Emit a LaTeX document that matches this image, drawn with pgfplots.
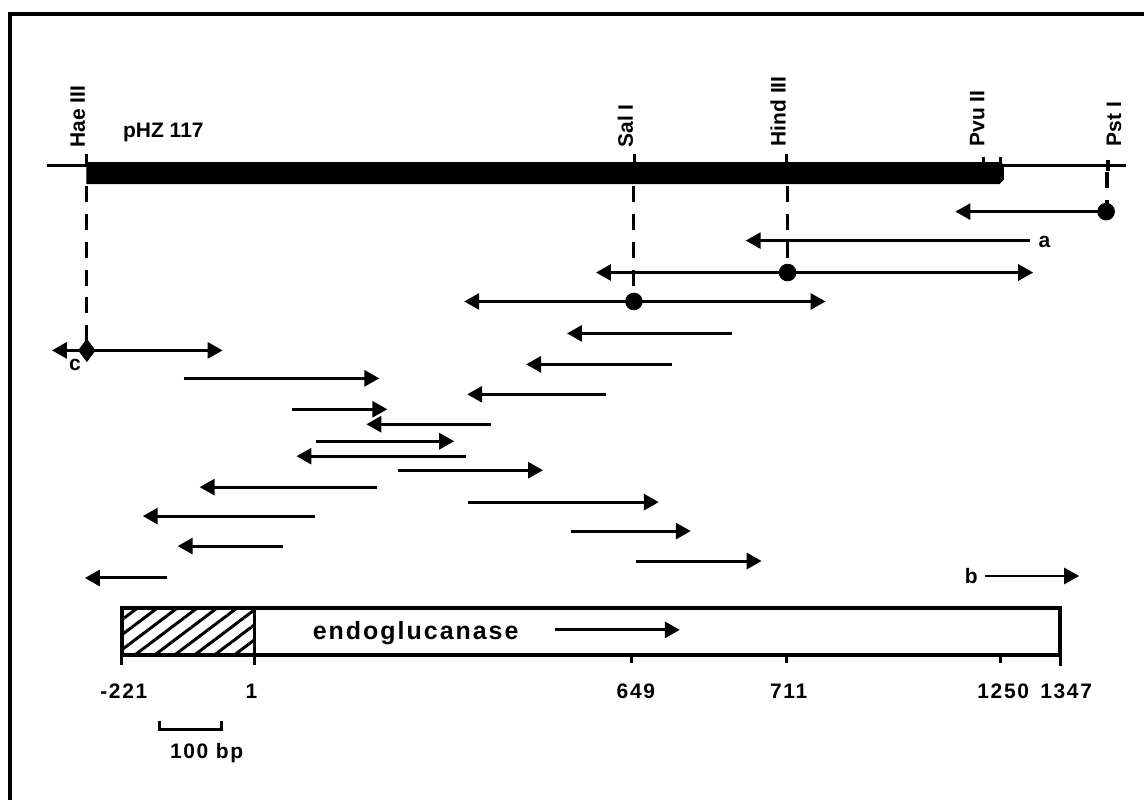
\documentclass[border=0pt]{standalone}
\usepackage{pgfplots}
\pgfplotsset{compat=1.18}
\usepackage{fontspec}
\setmainfont{Liberation Sans}
\usetikzlibrary{arrows.meta,patterns.meta}
\newcommand\lab{\fontsize{10.5}{12}\selectfont\bfseries}
\newcommand\num{\fontsize{10.5}{12}\selectfont\bfseries\addfontfeatures{LetterSpace=8}}
\tikzset{
  ar/.style={line width=1.5pt,-{Triangle[length=7.5pt,width=8pt]}},
  dar/.style={line width=1.5pt,{Triangle[length=7.5pt,width=8pt]}-{Triangle[length=7.5pt,width=8pt]}},
  dsh/.style={line width=1.6pt,dash pattern=on 8pt off 6pt},
  tk/.style={line width=1.6pt},
}
\begin{document}
\begin{tikzpicture}
\begin{axis}[scale only axis, width=573pt, height=400.5pt,
  xmin=0, xmax=1146, ymin=0, ymax=801, y dir=reverse,
  hide axis, clip=false]
% bounding box
\path (axis cs:0,0) rectangle (axis cs:1146,801);
% frame
\addplot[line width=2pt] coordinates {(10,801) (10,14) (1146,14)};
% plasmid thin line and thick insert
\addplot[line width=1.6pt] coordinates {(47,166) (1128,166)};
\addplot[fill=black, draw=black, line width=0.5pt] coordinates {(87,163) (1003,163) (1005,166) (1005,180) (1001,184) (87,184)} -- cycle;
% restriction ticks
\addplot[tk] coordinates {(87,154) (87,166)};
\addplot[tk] coordinates {(636,154) (636,166)};
\addplot[tk] coordinates {(788,154) (788,166)};
\addplot[tk] coordinates {(985,157) (985,166)};
\addplot[tk] coordinates {(1002,157) (1002,166)};
\addplot[tk] coordinates {(1110,160) (1110,171)};
% dashed guide lines
\addplot[dsh] coordinates {(87,186) (87,342)};
\addplot[dsh] coordinates {(635,186) (635,294)};
\addplot[dsh] coordinates {(789,186) (789,265)};
\addplot[dsh] coordinates {(1109,172) (1109,204)};
% restriction labels
\node[rotate=90, anchor=base west, inner sep=0, font=\lab] at (axis cs:85,148) {Hae III};
\node[rotate=90, anchor=base west, inner sep=0, font=\lab] at (axis cs:634,148) {Sal I};
\node[rotate=90, anchor=base west, inner sep=0, font=\lab] at (axis cs:787,147) {Hind III};
\node[rotate=90, anchor=base west, inner sep=0, font=\lab] at (axis cs:986,147) {Pvu II};
\node[rotate=90, anchor=base west, inner sep=0, font=\lab] at (axis cs:1123,147) {Pst I};
\node[anchor=base west, inner sep=0, font=\lab] at (axis cs:123,138) {pHZ 117};
% sequencing arrows (tail -> head)
\addplot[ar] coordinates {(1108,212) (957,212)};
\addplot[ar] coordinates {(1032,241) (747,241)};
\addplot[dar] coordinates {(597,273) (1035,273)};
\addplot[dar] coordinates {(465,302) (827,302)};
\addplot[ar] coordinates {(733,334) (568,334)};
\addplot[ar] coordinates {(673,365) (527,365)};
\addplot[ar] coordinates {(607,395) (468,395)};
\addplot[dar] coordinates {(52,351) (223,351)};
\addplot[ar] coordinates {(184,379) (380,379)};
\addplot[ar] coordinates {(293,410) (388,410)};
\addplot[ar] coordinates {(492,425) (367,425)};
\addplot[ar] coordinates {(317,442) (455,442)};
\addplot[ar] coordinates {(467,457) (297,457)};
\addplot[ar] coordinates {(399,471) (544,471)};
\addplot[ar] coordinates {(378,488) (200,488)};
\addplot[ar] coordinates {(469,503) (660,503)};
\addplot[ar] coordinates {(316,517) (143,517)};
\addplot[ar] coordinates {(572,532) (692,532)};
\addplot[ar] coordinates {(283,547) (178,547)};
\addplot[ar] coordinates {(637,562) (763,562)};
\addplot[ar] coordinates {(987,577) (1081,577)};
\addplot[ar] coordinates {(167,579) (85,579)};
% restriction-site dots
\addplot[only marks, mark=*, mark size=4.2pt, black] coordinates {(1108,212) (789,273) (635,302)};
\addplot[only marks, mark=diamond*, mark size=5.5pt, black] coordinates {(87,351)};
\node[font=\lab, anchor=west, inner sep=0] at (axis cs:1040,242) {a};
\node[font=\lab, inner sep=0] at (axis cs:973,577) {b};
\node[font=\lab, inner sep=0] at (axis cs:75,366) {c};
% gene box
\addplot[draw=none, pattern={Lines[angle=37,distance=6pt,line width=1.5pt]}] coordinates {(122,609) (255,609) (255,656) (122,656)} -- cycle;
\addplot[line width=1.8pt, line join=miter] coordinates {(122,609) (1062,609) (1062,656) (122,656)} -- cycle;
\addplot[line width=1.6pt] coordinates {(255,609) (255,656)};
\addplot[ar] coordinates {(556,631) (681,631)};
\node[anchor=base west, inner sep=0, font={\fontsize{12.5}{14}\selectfont\bfseries\addfontfeatures{LetterSpace=8}}] at (axis cs:313,641) {endoglucanase};
% position ticks
\addplot[tk] coordinates {(122,656) (122,666)};
\addplot[tk] coordinates {(255,656) (255,666)};
\addplot[tk] coordinates {(633,656) (633,664)};
\addplot[tk] coordinates {(788,656) (788,664)};
\addplot[tk] coordinates {(1002,656) (1002,664)};
\addplot[tk] coordinates {(1062,656) (1062,667)};
\node[anchor=base, inner sep=0, font=\num] at (axis cs:124,700) {-221};
\node[anchor=base, inner sep=0, font=\num] at (axis cs:252,700) {1};
\node[anchor=base, inner sep=0, font=\num] at (axis cs:637,700) {649};
\node[anchor=base, inner sep=0, font=\num] at (axis cs:790,700) {711};
\node[anchor=base, inner sep=0, font=\num] at (axis cs:1005,700) {1250};
\node[anchor=base, inner sep=0, font=\num] at (axis cs:1068,700) {1347};
% scale bar
\addplot[line width=1.5pt] coordinates {(160,722) (160,731) (222,731) (222,722)};
\node[anchor=base, inner sep=0, font=\num] at (axis cs:207,760) {100 bp};
\end{axis}
\end{tikzpicture}
\end{document}
